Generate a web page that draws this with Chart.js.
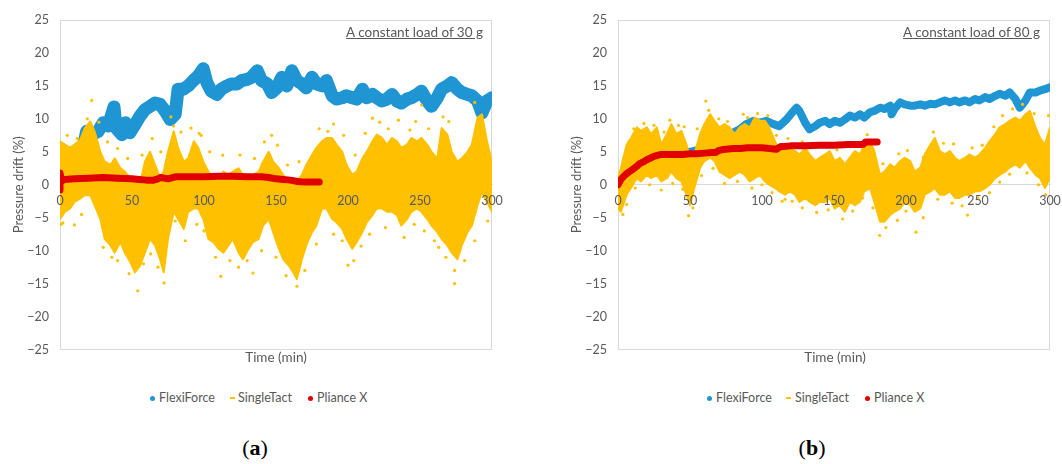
<!DOCTYPE html>
<html>
<head>
<meta charset="utf-8">
<script src="https://cdn.jsdelivr.net/npm/chart.js@4.4.1/dist/chart.umd.min.js"></script>
<style>
  body { margin:0; width:1062px; height:464px; background:#fff; position:relative; overflow:hidden; font-family:Lato, "Open Sans", sans-serif; }
  canvas { position:absolute; top:0; }
  .note { position:absolute; top:24px; font-size:13.5px; color:#595959; text-decoration:underline; white-space:nowrap; }
  .xt { position:absolute; top:349px; font-size:13.5px; color:#595959; white-space:nowrap; transform:translateX(-50%); }
  .lg { position:absolute; top:390px; font-size:12.5px; line-height:16px; color:#595959; white-space:nowrap; }
  .dot { position:absolute; width:5px; height:5px; border-radius:50%; top:396px; }
  .dash { position:absolute; width:5px; height:2px; top:397px; }
  .tag { position:absolute; top:435px; font-family:"Liberation Serif", serif; font-size:22px; color:#000; transform:translateX(-50%); }
</style>
</head>
<body>
<canvas id="chartA" width="531" height="368" style="left:0px"></canvas>
<canvas id="chartB" width="531" height="368" style="left:558px"></canvas>

<div class="note" style="right:579px">A constant load of 30 g</div>
<div class="note" style="right:22px">A constant load of 80 g</div>
<div class="xt" style="left:276px">Time (min)</div>
<div class="xt" style="left:835px">Time (min)</div>

<span class="dot" style="left:150px;background:#1f96d3"></span><span class="lg" style="left:159px">FlexiForce</span>
<span class="dash" style="left:230px;background:#ffc000"></span><span class="lg" style="left:238px">SingleTact</span>
<span class="dot" style="left:308px;background:#e00000"></span><span class="lg" style="left:317px">Pliance X</span>

<span class="dot" style="left:707px;background:#1f96d3"></span><span class="lg" style="left:716px">FlexiForce</span>
<span class="dash" style="left:786px;background:#ffc000"></span><span class="lg" style="left:795px">SingleTact</span>
<span class="dot" style="left:865px;background:#e00000"></span><span class="lg" style="left:874px">Pliance X</span>

<div class="tag" style="left:255px">(<b>a</b>)</div>
<div class="tag" style="left:812px">(<b>b</b>)</div>

<script>
// ---- Panel (a): constant load of 30 g ----
const flexiTimeA = [0, 3, 8, 12, 16, 18.5, 22, 26.5, 30, 33.5, 37.5, 39, 43, 45.5, 48.5, 52, 55.5, 59, 62.5, 66,
  69.5, 73, 76.5, 80, 82, 85.5, 89, 92.5, 96, 99.5, 102, 105, 109, 112, 116, 119, 123, 126, 130, 133,
  137, 140, 144, 147, 150.5, 154, 157.5, 161, 164.5, 168, 171, 175, 178, 182, 185, 189, 192, 196, 199, 203,
  206, 210, 213, 217, 220, 223.5, 227, 230.5, 234, 237, 241, 244, 248, 251, 255, 258, 262, 265, 269, 272,
  276, 279, 283, 286, 290, 293, 296.5, 300];
const flexiA = [-3, 0, 2.5, 4, 5.5, 8.1, 7.6, 8.1, 9.4, 8.9, 11.8, 8.6, 7.6, 9.4, 7.9, 9.1, 10.4, 11.4, 11.9, 12.4,
  12.2, 11.2, 9.9, 10.7, 14.5, 14.5, 15.0, 15.8, 16.5, 17.6, 15.5, 14.2, 13.7, 14.5, 15.0, 15.3, 15.3, 15.8, 16.0, 16.3,
  17.3, 15.8, 15.3, 14.0, 14.7, 16.3, 15.0, 17.3, 15.8, 15.3, 14.7, 16.3, 15.3, 15.0, 15.8, 13.5, 13.0, 13.2, 13.5, 13.2,
  13.0, 14.5, 13.2, 13.7, 13.2, 12.7, 13.0, 13.7, 12.7, 12.4, 13.0, 13.2, 13.7, 14.2, 12.7, 11.9, 13.2, 14.5, 15.0, 15.5,
  14.5, 14.0, 13.7, 13.5, 12.7, 10.9, 12.7, 13.2];

const singleTimeA = [0, 3.5, 7, 10, 14, 17, 21, 24, 28, 31, 35, 38, 42, 45, 49, 52, 55.5, 59, 62.5, 66,
  69.5, 72, 75, 79, 82, 86, 89, 93, 96, 99.5, 103, 106.5, 110, 113.5, 117, 120, 124, 127, 131, 134,
  138, 141, 145, 148, 152, 155, 159, 162, 164.5, 168, 171, 175, 178, 182, 185, 189, 192, 196, 199, 203,
  206, 210, 213, 217, 220, 223.5, 227, 230.5, 234, 237, 241, 244, 248, 251, 255, 258, 262, 265, 269, 272,
  276, 279, 283, 286, 290, 293, 296.5, 300];
const singleHighA = [6.6, 6.1, 5.6, 6.1, 6.8, 8.5, 9.6, 8.1, 5.0, 3.5, 3.0, 4.0, 2.5, 2.0, 1.0, 0.5, 0.0, 3.5, 5.0, 3.0,
  1.0, 2.0, 5.0, 8.1, 5.6, 3.5, 4.0, 6.6, 5.6, 3.5, 2.0, 1.0, 0.5, 2.0, 1.5, 2.0, 2.5, 1.5, 1.0, 1.5,
  2.0, 3.5, 5.0, 3.5, 2.5, 1.5, 0.5, 1.0, 0.5, 1.5, 3.0, 4.5, 5.6, 6.6, 7.1, 7.1, 6.1, 5.0, 3.0, 1.5,
  2.0, 4.0, 5.0, 6.6, 7.6, 7.1, 6.1, 7.1, 6.6, 5.6, 6.1, 7.1, 6.6, 7.1, 6.1, 5.0, 4.0, 8.6, 7.6, 5.0,
  3.5, 4.0, 5.0, 6.1, 10.2, 10.7, 6.6, 3.5];
const singleLowA = [-5.2, -4.1, -3.6, -2.6, -2.1, -1.6, -1.6, -3.1, -5.2, -8.2, -9.2, -10.3, -8.7, -10.3, -11.8, -13.3, -12.3, -10.3, -8.2, -9.2,
  -11.3, -13.3, -8.2, -4.1, -5.2, -6.7, -4.1, -3.6, -3.6, -5.2, -8.2, -8.7, -9.7, -10.3, -9.2, -8.2, -10.3, -11.3, -9.7, -8.7,
  -8.2, -6.2, -5.2, -7.2, -9.7, -11.3, -12.3, -13.3, -14.3, -11.3, -9.2, -7.2, -6.2, -3.6, -3.6, -5.2, -5.7, -6.7, -8.2, -9.7,
  -8.7, -7.2, -5.7, -4.6, -3.6, -3.6, -4.1, -4.1, -4.6, -6.2, -5.2, -4.1, -3.6, -4.1, -5.2, -6.2, -7.2, -8.2, -9.2, -10.3,
  -11.3, -9.2, -7.2, -6.2, -3.1, -1.1, -2.6, -4.1];
// scattered SingleTact readings outside the dense band
const singleStrayTimeA = [22, 78.8, 96.6, 186, 217, 251, 0.7, 10, 54, 72.3, 111.7, 134, 164.5, 200, 274, 274,
  5, 12, 19, 27, 33, 40, 47, 57, 64, 70, 77, 84, 91, 98, 104, 113, 125, 135, 142, 147, 151, 158, 166,
  180, 190, 197, 205, 212, 222, 228, 235, 243, 247, 256, 266, 270, 288,
  2, 15, 30, 36, 40, 48, 58, 63, 68, 80, 87, 95, 100, 108, 118, 124, 130, 140, 150, 157, 170, 178,
  190, 196, 204, 209, 215, 226, 239, 246, 253, 260, 263, 268, 281, 288, 297];
const singleStrayA = [12.8, 8.9, 7.8, 8.1, 10.1, 12.1, -6.0, -6.1, -16.1, -14.9, -13.9, -13.4, -15.4, -12.2, -15.0, -13.0,
  7.5, 7.0, 10.0, 9.5, 6.5, 5.5, 4.0, 4.5, 7.0, 5.0, 10.3, 8.0, 8.6, 7.5, 5.0, 4.5, 4.5, 4.0, 6.5, 7.5, 6.0, 3.0, 3.5,
  8.5, 9.2, 7.5, 4.5, 7.8, 9.5, 8.5, 9.8, 8.3, 9.6, 8.5, 10.3, 9.6, 12.5,
  -5.8, -4.5, -9.5, -11.0, -11.5, -13.5, -12.0, -10.5, -12.5, -5.5, -8.5, -6.0, -7.0, -11.0, -11.5, -12.5, -11.5, -10.0, -11.0, -13.8, -13.0, -9.0,
  -7.5, -8.5, -11.5, -9.3, -7.5, -6.5, -8.0, -6.0, -7.0, -8.5, -9.5, -11.0, -11.5, -8.5, -5.5];

const plianceTimeA = [0, 0, 1, 3, 10, 20, 30, 40, 50, 55, 60, 65, 68, 70, 75, 80, 90, 100, 110, 120,
  130, 140, 145, 150, 155, 160, 165, 170, 175, 180];
const plianceA = [-0.8, 1.8, 0.5, 0.8, 0.9, 1.0, 1.1, 1.0, 0.9, 0.8, 0.7, 0.7, 0.9, 1.1, 0.9, 1.2, 1.2, 1.2, 1.3, 1.3,
  1.2, 1.2, 1.1, 0.9, 0.8, 0.7, 0.5, 0.4, 0.4, 0.4];

// ---- Panel (b): constant load of 80 g ----
const flexiTimeB = [0, 5, 10, 15, 20, 30, 40, 50, 60, 70, 78, 80, 84.5, 89, 94, 98, 103, 108, 112, 117,
  120, 124, 126, 130, 133, 137, 140, 144, 147, 150.5, 154, 157.5, 161, 164.5, 168, 171, 175, 178, 182, 185,
  189, 190, 192, 196, 199, 203, 206, 210, 213, 217, 220, 223.5, 227, 230.5, 234, 237, 241, 244, 248, 251,
  255, 258, 262, 265, 269, 272, 276, 279, 283, 286, 290, 293, 296.5, 300];
const flexiB = [0, 1.5, 2.5, 3.0, 3.5, 4.3, 4.6, 5.0, 5.5, 6.5, 7.5, 7.9, 8.4, 9.2, 9.7, 9.4, 9.7, 9.2, 8.9, 9.9,
  10.7, 11.7, 11.2, 9.4, 8.4, 8.9, 9.4, 9.7, 9.2, 9.7, 9.4, 9.9, 10.5, 10.2, 10.7, 10.2, 11.0, 11.2, 11.7, 11.5,
  12.0, 10.7, 11.5, 12.5, 12.2, 12.0, 12.0, 12.2, 12.0, 12.3, 12.2, 12.5, 12.8, 12.5, 12.8, 12.5, 12.8, 12.5, 13.0, 12.8,
  13.3, 13.0, 13.5, 13.8, 13.5, 14.0, 13.0, 11.7, 12.8, 14.0, 14.0, 14.3, 14.5, 14.8];

const singleTimeB = [0, 2, 6, 9, 13, 16, 20, 23, 27, 30, 34, 37, 40.5, 44, 47.5, 50, 53, 57, 60, 64,
  67, 70.5, 74, 77.5, 81, 84.5, 88, 91.5, 95, 98.5, 102, 105, 109, 112, 116, 119, 123, 126, 130, 133,
  137, 140, 144, 147, 150.5, 154, 157.5, 161, 164.5, 168, 171, 175, 178, 182, 185, 189, 192, 196, 199, 203,
  206, 210, 213, 217, 220, 223.5, 227, 230.5, 234, 237, 241, 244, 248, 251, 255, 258, 262, 265, 269, 272,
  276, 279, 283, 286, 290, 293, 296.5, 300];
const singleHighB = [1.0, 2.5, 6.1, 7.1, 8.7, 8.2, 8.7, 7.7, 8.7, 6.1, 7.7, 9.2, 7.7, 8.2, 6.1, 4.1, 4.6, 7.7, 9.2, 10.7,
  9.7, 8.7, 9.2, 8.7, 7.7, 8.7, 9.2, 8.7, 10.2, 9.7, 9.7, 8.7, 6.6, 5.1, 6.1, 5.6, 5.1, 4.6, 5.6, 4.6,
  3.6, 4.1, 4.6, 5.1, 3.6, 4.1, 3.1, 4.1, 5.1, 4.6, 6.1, 6.6, 5.1, 1.5, 2.0, 3.1, 2.6, 3.6, 4.1, 3.6,
  2.0, 2.6, 4.6, 6.1, 7.1, 5.1, 4.6, 5.1, 4.1, 3.6, 4.1, 4.6, 4.1, 4.6, 5.6, 6.6, 7.7, 8.7, 9.2, 9.7,
  10.2, 9.7, 10.7, 11.2, 8.7, 7.1, 6.1, 8.7];
const singleLowB = [-3.6, -4.1, -1.5, -0.5, 1.0, 0.5, 1.5, 1.0, 1.5, 0.5, 1.0, 2.0, 1.0, 0.5, -1.5, -3.1, -0.5, 2.6, 3.6, 4.1,
  3.6, 2.0, 1.5, 1.0, 1.5, 2.0, 1.5, 0.5, 1.0, 1.5, 0.5, 0.0, -0.5, -1.0, -1.5, -1.0, -1.5, -2.6, -2.0, -2.6,
  -3.1, -2.6, -2.6, -2.0, -3.6, -3.1, -4.1, -2.6, -3.1, -2.6, -1.0, -0.5, -2.6, -5.6, -5.6, -4.6, -4.1, -3.6, -2.6, -3.1,
  -4.1, -3.6, -1.5, -1.0, -0.5, -1.5, -1.5, -1.0, -2.0, -2.0, -1.5, -1.5, -1.0, -1.0, -0.5, 0.0, 1.0, 1.5, 2.0, 2.6,
  3.1, 2.6, 3.6, 2.6, 1.5, 1.0, -0.5, 1.0];
const singleStrayTimeB = [61, 87, 281, 3.4, 49, 181.7, 207, 242.7, 116, 194,
  4, 11, 18, 25, 32, 36, 42, 46, 55, 63, 70, 76, 90, 97, 104, 110, 118, 128, 135, 145, 152, 166, 173,
  184, 195, 201, 212, 219, 226, 233, 246, 253, 261, 267, 274, 289, 299,
  6, 12, 22, 30, 38, 45, 52, 58, 66, 74, 83, 93, 100, 107, 114, 121, 128, 138, 146, 156, 163, 170, 177,
  186, 200, 212, 222, 232, 239, 250, 258, 265, 272, 284, 292, 297];
const singleStrayB = [12.7, 10.7, 12.2, -4.5, -4.7, -7.7, -7.2, -4.6, -2.2, -5.4,
  4.0, 8.5, 9.3, 9.0, 8.0, 9.8, 9.0, 8.8, 8.5, 11.3, 10.0, 9.6, 10.2, 10.8, 10.5, 7.5, 7.0, 6.5, 5.8, 5.8, 5.3, 6.2, 7.6,
  3.2, 4.7, 5.2, 4.2, 8.0, 6.3, 6.2, 5.6, 6.0, 8.8, 10.5, 11.5, 10.8, 10.5,
  -3.0, -0.5, 0.0, -0.8, 0.2, -0.7, -3.5, 1.4, 2.5, 0.2, 0.5, -0.5, 0.0, -1.2, -2.5, -2.5, -3.5, -4.2, -3.8, -5.2, -4.0, -2.0, -3.5,
  -6.5, -4.0, -5.0, -2.2, -2.8, -3.2, -2.0, -1.2, 0.4, 1.6, 1.8, 0.0, -1.5];

const plianceTimeB = [0, 2, 5, 8, 10, 13, 15, 18, 20, 23, 25, 28, 30, 35, 40, 45, 50, 55, 60, 65,
  68, 70, 72, 75, 80, 85, 90, 95, 100, 105, 110, 113, 115, 120, 130, 140, 150, 160, 170, 172,
  175, 180];
const plianceB = [0, 0.8, 1.5, 2.0, 2.3, 2.8, 3.2, 3.5, 3.8, 4.1, 4.3, 4.5, 4.6, 4.6, 4.6, 4.6, 4.7, 4.7, 4.8, 4.9,
  4.9, 5.2, 5.3, 5.4, 5.5, 5.5, 5.6, 5.6, 5.6, 5.5, 5.4, 5.8, 5.8, 5.9, 5.9, 6.0, 6.0, 6.1, 6.1, 6.5,
  6.5, 6.5];

const yTicks = { min: -25, max: 25, step: 5 };
const xTicks = { min: 0, max: 300, step: 50 };

const BLUE = '#1f96d3', GOLD = '#ffc000', RED = '#e00000', TEXT = '#595959', FRAME = '#d9d9d9';
const FONT = 'Lato, "Open Sans", sans-serif';

const pts = (t, v) => t.map((x, i) => ({ x, y: v[i] }));
const minusSign = v => String(v).replace('-', '\u2212');

// light grey frame around the plotting area
const plotFrame = {
  id: 'plotFrame',
  beforeDatasetsDraw(chart) {
    const { ctx, chartArea: a } = chart;
    ctx.save();
    ctx.strokeStyle = FRAME;
    ctx.lineWidth = 1;
    ctx.strokeRect(Math.round(a.left) + 0.5, Math.round(a.top) + 0.5, Math.round(a.width) - 1, Math.round(a.height) - 1);
    ctx.restore();
  }
};

function buildPanel(id, s) {
  const line = { showLine: true, pointRadius: 0, tension: 0, fill: false, borderJoinStyle: 'round', borderCapStyle: 'round' };
  return new Chart(document.getElementById(id), {
    type: 'line',
    data: {
      datasets: [
        { ...line, label: 'FlexiForce', data: pts(s.flexiT, s.flexi), borderColor: BLUE, borderWidth: s.flexiWidth, order: 2 },
        { ...line, label: 'SingleTact', data: pts(s.singleT, s.hi), borderColor: GOLD, backgroundColor: GOLD, borderWidth: 2, fill: '+1', order: 1 },
        { ...line, label: 'SingleTact low', data: pts(s.singleT, s.lo), borderColor: GOLD, borderWidth: 2, order: 1 },
        { label: 'SingleTact stray', data: pts(s.strayT, s.stray), showLine: false, pointRadius: 1.6, pointBorderWidth: 0,
          pointBackgroundColor: GOLD, order: 1 },
        { ...line, label: 'Pliance X', data: pts(s.plianceT, s.pliance), borderColor: RED, borderWidth: 7, order: 0 }
      ]
    },
    options: {
      responsive: false,
      animation: false,
      devicePixelRatio: 1,
      layout: { padding: { top: 20, right: 39, bottom: 4, left: 0 } },
      plugins: { legend: { display: false }, tooltip: { enabled: false } },
      scales: {
        x: {
          type: 'linear', min: xTicks.min, max: xTicks.max, position: { y: 0 },
          grid: { display: false, drawTicks: false },
          border: { display: true, color: FRAME },
          ticks: { stepSize: xTicks.step, color: TEXT, font: { family: FONT, size: 12.5 }, padding: 9, maxRotation: 0, autoSkip: false, z: 1 }
        },
        y: {
          type: 'linear', min: yTicks.min, max: yTicks.max,
          grid: { display: false, drawTicks: false },
          border: { display: false },
          ticks: { stepSize: yTicks.step, color: TEXT, font: { family: FONT, size: 12.5 }, padding: 11, callback: minusSign },
          title: { display: true, text: 'Pressure drift (%)', color: TEXT, font: { family: FONT, size: 13 }, padding: { top: 11, bottom: 0 } },
          afterFit(scale) { scale.width = 60; }
        }
      }
    },
    plugins: [plotFrame]
  });
}

buildPanel('chartA', {
  flexiT: flexiTimeA, flexi: flexiA, flexiWidth: 13,
  singleT: singleTimeA, hi: singleHighA, lo: singleLowA,
  strayT: singleStrayTimeA, stray: singleStrayA,
  plianceT: plianceTimeA, pliance: plianceA
});
buildPanel('chartB', {
  flexiT: flexiTimeB, flexi: flexiB, flexiWidth: 8,
  singleT: singleTimeB, hi: singleHighB, lo: singleLowB,
  strayT: singleStrayTimeB, stray: singleStrayB,
  plianceT: plianceTimeB, pliance: plianceB
});
</script>
</body>
</html>
